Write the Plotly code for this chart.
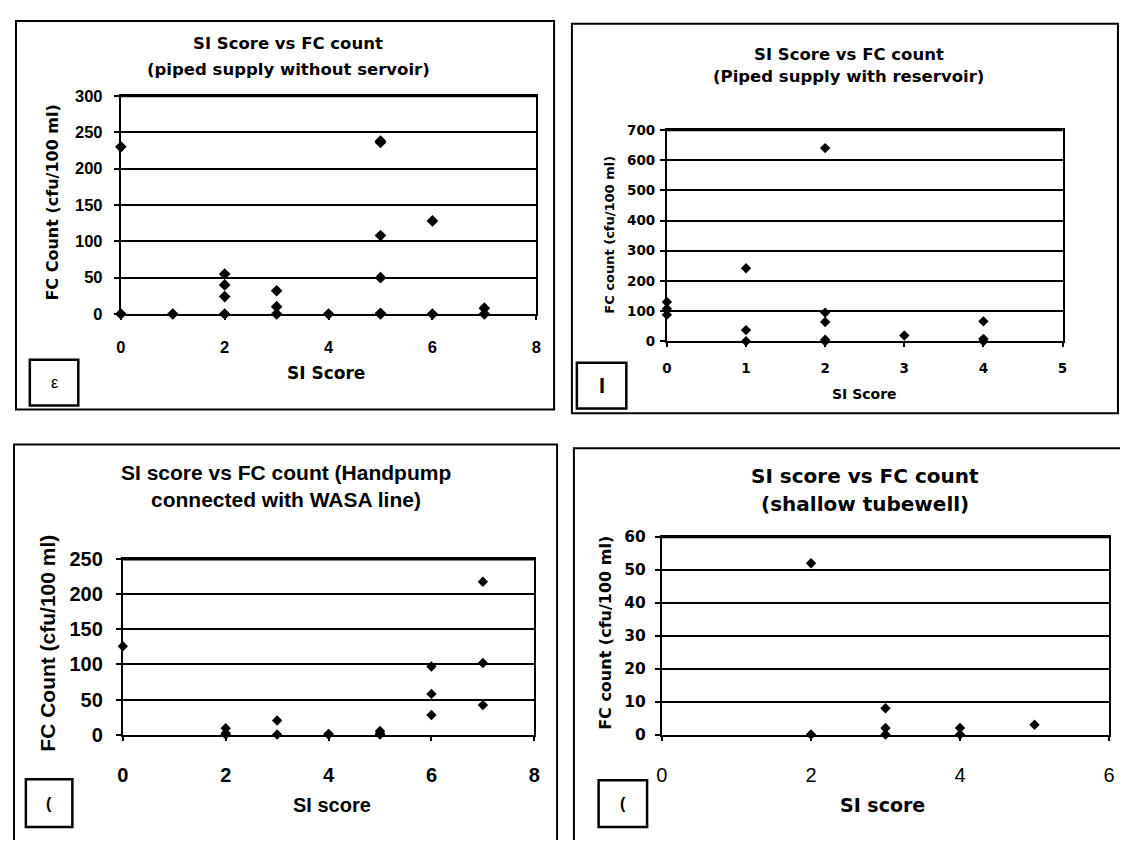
import plotly.graph_objects as go

# ---------------- data ----------------
p1_x = [0, 0, 1, 2, 2, 2, 2, 3, 3, 3, 4, 5, 5, 5, 5, 5, 5, 6, 6, 7, 7]
p1_y = [230, 0, 0, 55, 40, 24, 0, 32, 10, 0, 0, 238, 236, 108, 50, 1, 0, 128, 0, 8, 0]

p2_x = [0, 0, 0, 1, 1, 1, 2, 2, 2, 2, 2, 3, 4, 4, 4]
p2_y = [130, 108, 88, 242, 37, 0, 640, 95, 64, 5, 0, 19, 66, 8, 0]

p3_x = [0, 2, 2, 2, 3, 3, 4, 4, 5, 5, 5, 6, 6, 6, 7, 7, 7]
p3_y = [126, 9, 2, 0, 20, 0, 1, 0, 5, 2, 0, 97, 58, 28, 218, 102, 42]

p4_x = [2, 2, 3, 3, 3, 4, 4, 5]
p4_y = [52, 0, 8, 2, 0, 2, 0, 3]

title_lines = [
    ["SI Score vs FC count", "(piped supply without servoir)"],
    ["SI Score vs FC count", "(Piped supply with reservoir)"],
    ["SI score vs FC count (Handpump", "connected with WASA line)"],
    ["SI score vs FC count", "(shallow tubewell)"],
]
x_titles = ["SI Score", "SI Score", "SI score", "SI score"]
y_titles = ["FC Count (cfu/100 ml)", "FC count (cfu/100 ml)",
            "FC Count (cfu/100 ml)", "FC count (cfu/100 ml)"]
box_glyphs = ["ε", "I", "(", "("]

x_ranges = [[0, 8], [0, 5], [0, 8], [0, 6]]
x_dticks = [2, 1, 2, 2]
y_ranges = [[0, 300], [0, 700], [0, 250], [0, 60]]
y_dticks = [50, 100, 50, 10]

# ---------------- layout geometry (page pixels) ----------------
PAGE_W, PAGE_H = 1128, 848
OFF = 8  # default body margin of the page
W, H = PAGE_W - 2 * OFF, PAGE_H - 2 * OFF
ARIAL = "Liberation Sans, Arial, sans-serif"
DEJA = "DejaVu Sans, Verdana, sans-serif"


def px(x):
    return (x - OFF) / W


def py(y):
    return 1 - (y - OFF) / H


# plot areas: (left, right, top, bottom)
plots = [(116, 536, 87, 311), (668, 1068, 122, 339),
         (118, 534, 563, 743), (663, 1115, 540, 743)]
frames = [(10, 554, 10, 409), (572, 1124, 13, 413),
          (8, 557, 445, 870), (574, 1140, 449, 870)]
# title: (centre x, line1 y, line2 y, size, family)
title_pos = [(285, 33, 60, 16.5, DEJA), (852, 44, 67, 16.5, DEJA),
             (283, 474, 502, 21, ARIAL), (868, 477, 506, 20, DEJA)]
xtitle_pos = [(323, 372, 17, DEJA), (868, 393, 14, DEJA),
              (329, 815, 20, ARIAL), (886, 815, 19, DEJA)]
ytitle_pos = [(46, 197, 16, DEJA), (610, 230, 13, DEJA),
              (41, 649, 21, ARIAL), (606, 639, 16, DEJA)]
# tick fonts: (x size, x family, x weight, y size, y family, y weight)
tick_fonts = [
    (16.5, ARIAL, "bold", 16.5, ARIAL, "bold"),
    (13.5, DEJA, "bold", 13.5, DEJA, "bold"),
    (20, ARIAL, "bold", 20, ARIAL, "bold"),
    (20, ARIAL, "normal", 15.5, DEJA, "bold"),
]
x_standoff = [13, 10, 17, 17]
y_standoff = [8, 2, 9, 6]
marker_sizes = [9, 8, 8, 8]
boxes = [(24, 73, 358, 405), (577, 627, 361, 408), (20, 67, 789, 838), (599, 648, 790, 838)]
box_font = [(16, "normal"), (22, "bold"), (16, "bold"), (16, "bold")]

xs = [p1_x, p2_x, p3_x, p4_x]
ys = [p1_y, p2_y, p3_y, p4_y]

fig = go.Figure()
layout = dict(
    width=W, height=H, margin=dict(l=0, r=0, t=0, b=0),
    paper_bgcolor="white", plot_bgcolor="white", showlegend=False,
    font=dict(family=ARIAL, color="black"),
)
shapes = []
annotations = []


def ann(x, y, text, size, family, weight="bold", angle=0):
    return dict(x=px(x), y=py(y), xref="paper", yref="paper", text=text,
                showarrow=False, xanchor="center", yanchor="middle",
                textangle=angle, align="center",
                font=dict(size=size, family=family, color="black", weight=weight))


for i in range(4):
    n = "" if i == 0 else str(i + 1)
    xa, ya = "x" + n, "y" + n
    l, r, t, b = plots[i]
    fig.add_trace(go.Scatter(
        x=xs[i], y=ys[i], mode="markers", xaxis=xa, yaxis=ya,
        marker=dict(symbol="diamond", size=marker_sizes[i], color="black"),
        cliponaxis=False,
    ))
    xs_, xf, xw, ys_, yf, yw = tick_fonts[i]
    layout["xaxis" + n] = dict(
        domain=[px(l), px(r)], anchor=ya, range=x_ranges[i], dtick=x_dticks[i],
        showgrid=False, zeroline=False, showline=True, linecolor="black",
        linewidth=2, mirror=True, ticks="outside", ticklen=4, tickcolor="black",
        tickwidth=1.5,
        tickfont=dict(size=xs_, family=xf, weight=xw, color="black"),
        ticklabelstandoff=x_standoff[i],
    )
    layout["yaxis" + n] = dict(
        domain=[py(b), py(t)], anchor=xa, range=y_ranges[i], dtick=y_dticks[i],
        showgrid=True, gridcolor="black", gridwidth=1.6, zeroline=False,
        showline=True, linecolor="black", linewidth=2, mirror=True,
        ticks="outside", ticklen=5, tickcolor="black", tickwidth=1.5,
        tickfont=dict(size=ys_, family=yf, weight=yw, color="black"),
        ticklabelstandoff=y_standoff[i],
    )
    # panel frame
    fl, fr, ft, fb = frames[i]
    shapes.append(dict(type="rect", xref="paper", yref="paper",
                       x0=px(fl), x1=px(fr), y0=py(fb), y1=py(ft),
                       line=dict(color="black", width=2), layer="below"))
    # thicker top border of the plot area
    shapes.append(dict(type="line", xref="paper", yref="paper",
                       x0=px(l), x1=px(r), y0=py(t), y1=py(t),
                       line=dict(color="black", width=2.5)))
    # little label box
    bl, br, bt, bb = boxes[i]
    shapes.append(dict(type="rect", xref="paper", yref="paper",
                       x0=px(bl), x1=px(br), y0=py(bb), y1=py(bt),
                       line=dict(color="black", width=2.5)))
    annotations.append(ann((bl + br) / 2, (bt + bb) / 2, box_glyphs[i],
                           box_font[i][0], ARIAL, box_font[i][1]))
    cx, ty1, ty2, ts, tf = title_pos[i]
    annotations.append(ann(cx, ty1, title_lines[i][0], ts, tf))
    annotations.append(ann(cx, ty2, title_lines[i][1], ts, tf))
    xx, xy, xsz, xfam = xtitle_pos[i]
    annotations.append(ann(xx, xy, x_titles[i], xsz, xfam))
    yx, yy, ysz, yfam = ytitle_pos[i]
    annotations.append(ann(yx, yy, y_titles[i], ysz, yfam, angle=-90))

layout["shapes"] = shapes
layout["annotations"] = annotations
fig.update_layout(**layout)
fig.write_html("out.html")
